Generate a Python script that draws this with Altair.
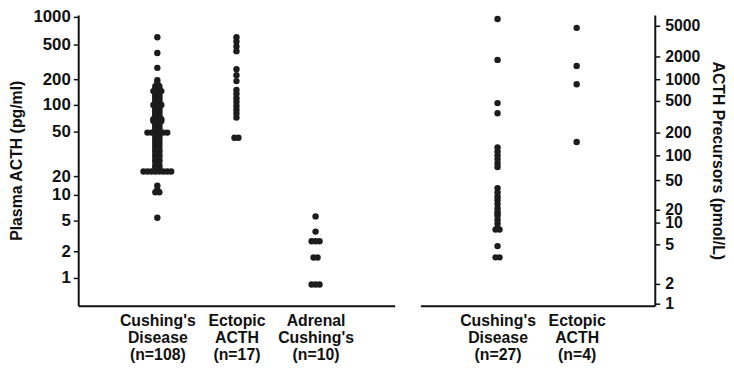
import json
import altair as alt
import pandas as pd

# ---------------- data ----------------
left_labels = [["Cushing's", "Disease", "(n=108)"],
               ["Ectopic", "ACTH", "(n=17)"],
               ["Adrenal", "Cushing's", "(n=10)"]]
right_labels = [["Cushing's", "Disease", "(n=27)"],
                ["Ectopic", "ACTH", "(n=4)"]]

# Plasma ACTH (pg/ml)
cushing_acth = [600, 400, 270, 195, 180, 165, 165, 155, 155, 145, 145, 145, 138, 138,
                130, 130, 124, 124, 118, 118, 112, 112, 106, 106, 100, 100, 100, 96, 96,
                92, 92, 88, 88, 84, 84, 80, 80, 76, 76, 72, 72, 70, 69, 69, 69, 66, 66, 66,
                63, 63, 60, 60, 57, 57, 54, 54, 52, 52, 50, 49, 49, 49, 49, 49, 49, 46, 46,
                44, 44, 42, 42, 40, 40, 38, 38, 36, 36, 35, 34, 34, 33, 33, 31, 31, 30, 30,
                28, 28, 27, 27, 26, 25, 25, 24, 24, 22, 22, 22, 22, 22, 22, 22, 22,
                14, 12, 11, 11, 5.4]
ectopic_acth = [600, 540, 475, 420, 260, 222, 190, 150, 135, 120, 108, 97, 88, 80, 72, 44, 44]
adrenal_acth = [5.6, 3.6, 2.7, 2.7, 2.7, 1.7, 1.7, 0.85, 0.85, 0.85]

# ACTH precursors (pmol/L)
cushing_prec = [6100, 1800, 470, 350, 127, 112, 100, 90, 80, 72, 39, 34, 30, 27, 24, 21,
                18, 16, 14.5, 11.7, 9.7, 8.5, 8, 8, 4.8, 3.7, 3.7]
ectopic_prec = [4700, 1500, 850, 150]

left_ticks = [1, 2, 5, 10, 20, 50, 100, 200, 500, 1000]
right_ticks = [1, 2, 5, 10, 20, 50, 100, 200, 500, 1000, 2000, 5000]

# ---------------- tables ----------------
left_df = pd.DataFrame(
    [{"group": i + 1, "value": v}
     for i, vals in enumerate([cushing_acth, ectopic_acth, adrenal_acth]) for v in vals])
right_df = pd.DataFrame(
    [{"group": i + 1, "value": v}
     for i, vals in enumerate([cushing_prec, ectopic_prec]) for v in vals])

FONT = "Liberation Sans"
INK = "#111111"
STEP = 0.05      # horizontal spread between tied dots (x units)
H = 294


def label_expr(labels):
    parts = []
    for i, lines in enumerate(labels):
        arr = "[" + ",".join(json.dumps(s) for s in lines) + "]"
        parts.append(f"datum.value == {i + 1} ? {arr}")
    return " : ".join(parts) + " : ''"


def x_axis(labels):
    return alt.Axis(values=list(range(1, len(labels) + 1)), labelExpr=label_expr(labels),
                    ticks=False, grid=False, title=None, domainColor=INK, domainWidth=2,
                    labelFont=FONT, labelFontSize=16, labelFontWeight="bold",
                    labelColor=INK, labelLineHeight=17, labelPadding=7,
                    labelBaseline="top", labelOverlap=False, labelFlush=False)


def y_axis(ticks, orient, title, title_angle, label_size, title_pad):
    return alt.Axis(values=ticks, format="d", orient=orient, title=title, grid=False,
                    domainColor=INK, domainWidth=2, tickColor=INK, tickWidth=1.5,
                    tickSize=5, labelPadding=3 if orient == "left" else 5,
                    labelFont=FONT, labelFontSize=label_size, labelFontWeight="bold",
                    labelColor=INK, labelOverlap=False, titleFont=FONT,
                    titleFontSize=16, titleFontWeight="bold", titleColor=INK,
                    titlePadding=title_pad, titleAngle=title_angle)


def panel(df, labels, xdomain, width, ydomain, yrange, axis):
    return (
        alt.Chart(df)
        .transform_window(rn="row_number()", groupby=["group", "value"])
        .transform_joinaggregate(n="count()", groupby=["group", "value"])
        .transform_calculate(xpos=f"datum.group + (datum.rn - (datum.n + 1) / 2) * {STEP}")
        .mark_circle(size=42, color="#1c1c1c", opacity=1)
        .encode(
            x=alt.X("xpos:Q", scale=alt.Scale(domain=xdomain, nice=False, zero=False),
                    axis=x_axis(labels)),
            y=alt.Y("value:Q",
                    scale=alt.Scale(type="log", domain=ydomain, range=yrange, nice=False),
                    axis=axis),
        )
        .properties(width=width, height=H)
    )


left = panel(left_df, left_labels, [0, 4], 320,
             [0.5] + left_ticks + [1050],
             [294, 266, 239, 208, 182, 163, 118, 91, 65, 30, 2, 0],
             y_axis(left_ticks, "left", "Plasma ACTH (pg/ml)", -90, 17, 9))

right = panel(right_df, right_labels, [0.025, 2.9875], 237,
              [0.93] + right_ticks + [6900],
              [294, 292, 272, 232, 210, 197, 167, 142, 119, 87, 65, 42, 11, 0],
              y_axis(right_ticks, "right", "ACTH Precursors (pmol/L)", 90, 16, 10))

chart = (
    alt.hconcat(left, right, spacing=26)
    .properties(padding={"left": 0, "top": -2, "right": 0, "bottom": 0},
                background="white")
    .configure_view(strokeWidth=0, stroke="transparent")
)

chart.save("out.html", embed_options={"renderer": "svg", "actions": False})
